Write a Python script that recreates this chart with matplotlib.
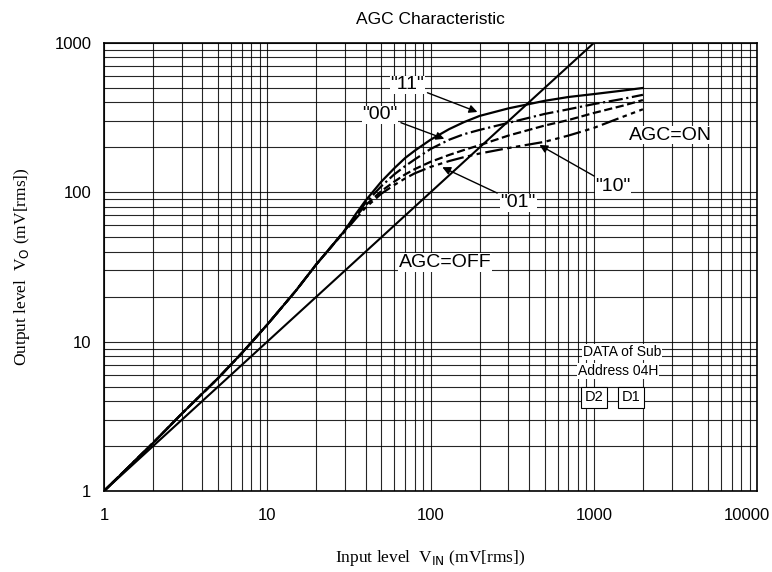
import numpy as np
import matplotlib
matplotlib.use("Agg")
import matplotlib.pyplot as plt
import matplotlib.transforms as mtransforms

plt.rcParams['font.family'] = ['Liberation Sans', 'DejaVu Sans']

# AGC=OFF straight line (output = input)
off_x = [1, 1000]
off_y = [1, 1000]

# AGC=ON curves, one per D2 D1 setting
on_x = [1, 2, 3, 5, 7, 10, 15, 20, 25, 30, 35, 40, 50, 60, 70, 80, 100,
        130, 160, 200, 300, 500, 700, 1000, 1500, 2000]
on_11 = [1, 2.1, 3.3, 5.7, 8.4, 13, 22, 33, 44, 56, 72, 88, 118, 145, 170, 190, 225,
         265, 295, 325, 365, 410, 435, 455, 480, 500]
on_00 = [1, 2.1, 3.3, 5.7, 8.4, 13, 22, 33, 44, 56, 70, 85, 110, 132, 150, 166, 195,
         225, 245, 262, 292, 335, 360, 390, 422, 450]
on_01 = [1, 2.1, 3.3, 5.7, 8.4, 13, 22, 33, 44, 56, 69, 82, 102, 118, 132, 143, 160,
         178, 192, 207, 240, 280, 305, 340, 380, 415]
on_10 = [1, 2.1, 3.3, 5.7, 8.4, 13, 22, 33, 44, 55, 67, 79, 98, 112, 124, 134, 148,
         162, 172, 182, 198, 218, 240, 270, 320, 360]

x_ticks = [1, 10, 100, 1000, 10000]
y_ticks = [1, 10, 100, 1000]

fig = plt.figure(figsize=(7.72, 5.72), dpi=100)
ax = fig.add_axes([0.1347, 0.1416, 0.8459, 0.7832])

ax.set_xscale('log')
ax.set_yscale('log')
ax.set_xlim(1, 10000)
ax.set_ylim(1, 1000)

ax.grid(True, which='both', color='black', linewidth=0.8, alpha=0.85)
ax.set_axisbelow(True)
for s in ax.spines.values():
    s.set_linewidth(1.2)

ax.plot(off_x, off_y, color='black', linewidth=1.5)
ax.plot(on_x, on_11, color='black', linewidth=1.6, linestyle='-')
ax.plot(on_x, on_00, color='black', linewidth=1.6, linestyle='-.')
ax.plot(on_x, on_01, color='black', linewidth=1.6, linestyle='--')
ax.plot(on_x, on_10, color='black', linewidth=1.6, linestyle=(0, (8, 2, 2, 2, 2, 2)))

ax.set_xticks(x_ticks)
ax.set_xticklabels([str(v) for v in x_ticks])
ax.set_yticks(y_ticks)
ax.set_yticklabels([str(v) for v in y_ticks])
ax.tick_params(axis='both', which='both', length=0, labelsize=12)
ax.tick_params(axis='x', pad=12)
ax.tick_params(axis='y', pad=9)

# keep the last x label inside the figure
last = ax.get_xticklabels()[-1]
last.set_horizontalalignment('right')
last.set_transform(last.get_transform() + mtransforms.ScaledTranslation(0.13, 0, fig.dpi_scale_trans))

ax.set_title('AGC Characteristic', fontsize=12.5, pad=14)
ax.set_xlabel(r'Input level  V$_{\mathrm{IN}}$ (mV[rms])', family='Liberation Serif', fontsize=12.5, labelpad=18)
ax.set_ylabel(r'Output level  V$_{\mathrm{O}}$ (mV[rms])', family='Liberation Serif', fontsize=12.5, labelpad=16)

white = dict(facecolor='white', edgecolor='none', pad=0.5)
arrow = dict(arrowstyle='-|>', color='black', linewidth=1.0, mutation_scale=12)

ax.annotate('"11"', xy=(201, 340), xytext=(72, 524), fontsize=14, ha='center', va='center',
            bbox=white, arrowprops=arrow)
ax.annotate('"00"', xy=(126, 225), xytext=(49, 330), fontsize=14, ha='center', va='center',
            bbox=white, arrowprops=arrow)
ax.annotate('"01"', xy=(114, 150), xytext=(344, 85), fontsize=14, ha='center', va='center',
            bbox=white, arrowprops=arrow)
ax.annotate('"10"', xy=(449, 212), xytext=(1312, 109), fontsize=14, ha='center', va='center',
            bbox=white, arrowprops=arrow)

ax.text(2931, 242, 'AGC=ON', fontsize=14, ha='center', va='center', bbox=white)
ax.text(123, 34, 'AGC=OFF', fontsize=14, ha='center', va='center', bbox=white)

ax.text(859, 8.53, 'DATA of Sub', fontsize=10, ha='left', va='center', bbox=white)
ax.text(801, 6.36, 'Address 04H', fontsize=10, ha='left', va='center', bbox=white)
boxed = dict(facecolor='white', edgecolor='black', linewidth=0.8, pad=2.5)
ax.text(1003, 4.26, 'D2', fontsize=10.5, ha='center', va='center', bbox=boxed)
ax.text(1691, 4.26, 'D1', fontsize=10.5, ha='center', va='center', bbox=boxed)

fig.savefig('out.png', dpi=100)
